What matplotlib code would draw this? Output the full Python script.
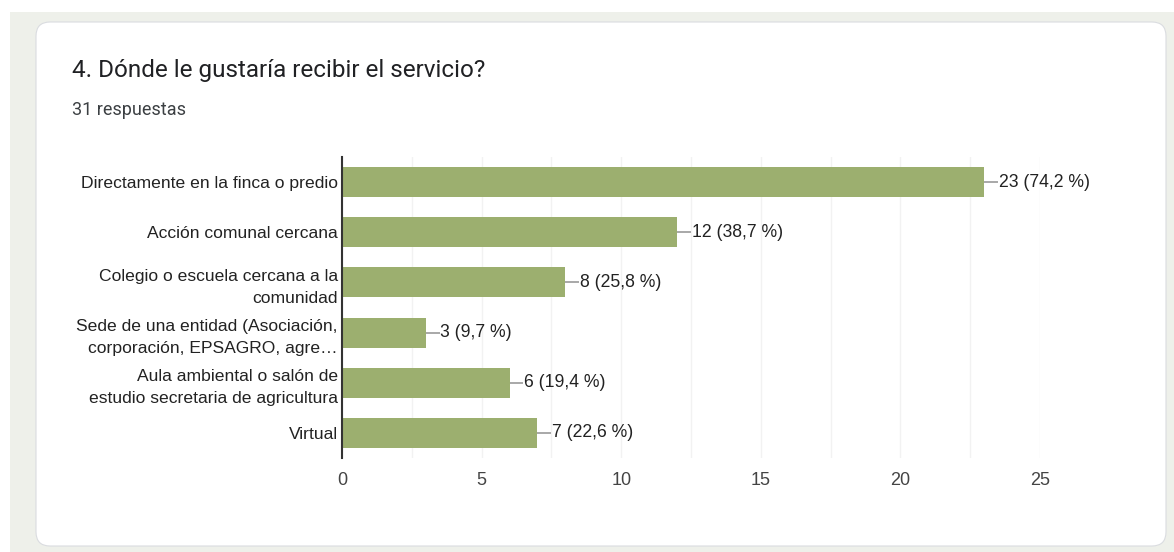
import matplotlib
matplotlib.use("Agg")
import matplotlib.pyplot as plt
from matplotlib.patches import FancyBboxPatch, Rectangle

# Data
categories = [
    "Directamente en la finca o predio",
    "Acción comunal cercana",
    "Colegio o escuela cercana a la\ncomunidad",
    "Sede de una entidad (Asociación,\ncorporación, EPSAGRO, agre…",
    "Aula ambiental o salón de\nestudio secretaria de agricultura",
    "Virtual",
]
counts = [23, 12, 8, 3, 6, 7]
percents = ["74,2", "38,7", "25,8", "9,7", "19,4", "22,6"]
xticks = [0, 5, 10, 15, 20, 25]

title = "4. Dónde le gustaría recibir el servicio?"
subtitle = "31 respuestas"

W, H = 1174, 552
fig = plt.figure(figsize=(W / 100, H / 100), dpi=100)
fig.patch.set_facecolor("white")

# page background and card
fig.patches.append(Rectangle((10 / W, 0), 1 - 10 / W, 1 - 12 / H,
                             transform=fig.transFigure, facecolor="#eef0ea",
                             edgecolor="none", zorder=-3))
fig.patches.append(FancyBboxPatch((36 / W, 6 / H), (1166 - 36) / W, (530 - 6) / H,
                                  boxstyle="round,pad=0,rounding_size=0.012",
                                  transform=fig.transFigure, facecolor="white",
                                  edgecolor="#dadce0", linewidth=0.8, zorder=-2,
                                  mutation_aspect=W / H))

fig.text(72 / W, 1 - 71 / H, title, fontsize=17.5, family="Roboto",
         color="#202124", va="center", ha="left")
fig.text(72 / W, 1 - 110 / H, subtitle, fontsize=13, family="Roboto",
         color="#3c4043", va="center", ha="left")

ax = fig.add_axes([342 / W, 1 - 458 / H, (1040 - 342) / W, (458 - 157) / H])
ax.set_facecolor("white")
y = list(range(len(categories)))
ax.barh(y, counts, height=0.6, color="#9caf6f", zorder=3)
ax.set_ylim(len(categories) - 0.5, -0.5)
ax.set_xlim(0, 25)

ax.set_xticks(xticks)
ax.set_xticks([t + 2.5 for t in xticks[:-1]], minor=True)
ax.grid(axis="x", which="both", color="#f2f2f2", linewidth=1, zorder=0)
ax.tick_params(axis="x", which="both", length=0, pad=10, labelsize=13,
               labelcolor="#444444")
ax.set_yticks(y)
ax.set_yticklabels(categories, fontsize=12.6, color="#222222",
                   family="Liberation Sans", linespacing=1.55)
ax.tick_params(axis="y", length=0, pad=3)
for lab in ax.get_xticklabels():
    lab.set_family("Liberation Sans")

for s in ["top", "right", "bottom"]:
    ax.spines[s].set_visible(False)
ax.spines["left"].set_color("#333333")
ax.spines["left"].set_linewidth(1.5)
ax.spines["left"].set_zorder(5)

for yi, c, p in zip(y, counts, percents):
    ax.plot([c, c + 0.5], [yi, yi], color="#999999", linewidth=1.2, zorder=4,
            solid_capstyle="butt")
    ax.text(c + 0.52, yi, f"{c} ({p} %)", va="center", ha="left",
            fontsize=12.7, color="#222222", family="Liberation Sans")

fig.savefig("out.png", dpi=100)
